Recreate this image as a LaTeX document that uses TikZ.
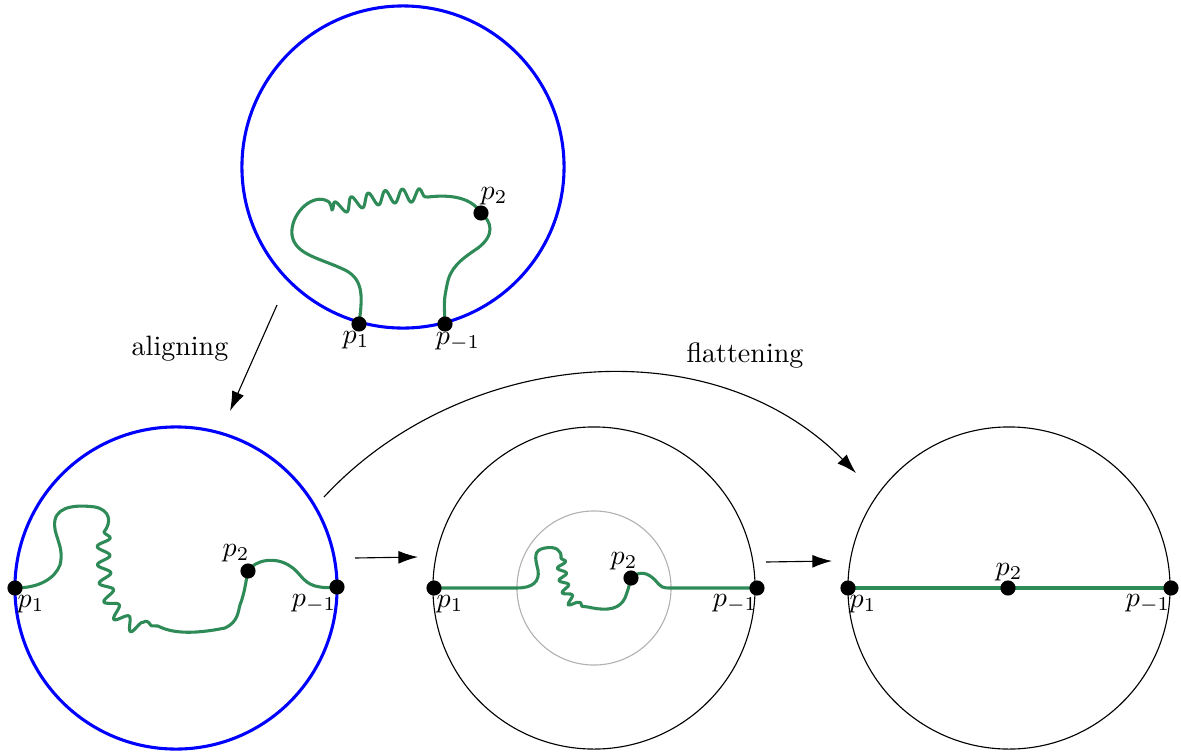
\documentclass[tikz,border=0pt]{standalone}
\usetikzlibrary{arrows.meta,decorations.pathmorphing}
\definecolor{grn}{RGB}{46,139,87}
\definecolor{blu}{RGB}{0,0,255}
\begin{document}
\begin{tikzpicture}[x=0.357pt,y=-0.357pt,
  bluecirc/.style={draw=blu,line width=1.1pt},
  blackcirc/.style={draw=black,line width=0.4pt},
  graycirc/.style={draw=black!30,line width=0.4pt},
  grnpath/.style={draw=grn,line width=1.1pt,line cap=round,line join=round},
  dot/.style={circle,fill=black,inner sep=0pt,minimum size=5.4pt},
  lbl/.style={inner sep=0pt},
  arr/.style={-{Latex[length=7pt,width=4.6pt]},line width=0.4pt},
  wig/.style 2 args={decoration={snake,segment length=#1,amplitude=#2}}
]
\useasboundingbox (0,0) rectangle (1181,754);

% ---------- positions ----------
\coordinate (a1) at (359,324);
\coordinate (am) at (445,324);
\coordinate (a2) at (481,213);
\coordinate (b1) at (15,588);
\coordinate (bm) at (337,587);
\coordinate (b2) at (248,571);
\coordinate (c1) at (434,588);
\coordinate (cm) at (757,588);
\coordinate (c2) at (631,578);
\coordinate (d1) at (848,588);
\coordinate (dm) at (1171,588);
\coordinate (d2) at (1008,588);

% ---------- circles ----------
\node[circle,bluecirc,minimum size=115pt,inner sep=0pt] (C0) at (403,167) {};
\node[circle,bluecirc,minimum size=115pt,inner sep=0pt] (C1) at (176,588) {};
\node[circle,blackcirc,minimum size=115pt,inner sep=0pt] (C2) at (594,588) {};
\node[circle,graycirc,minimum size=55pt,inner sep=0pt] (G2) at (594,588) {};
\node[circle,blackcirc,minimum size=115pt,inner sep=0pt] (C3) at (1009,588) {};

% ---------- top curve ----------
\draw[grnpath] (a1) .. controls (362,300) and (365,280) .. (345,270)
  .. controls (320,258) and (295,255) .. (292,235)
  .. controls (290,215) and (310,195) .. (325,200)
  .. controls (330,202) .. (332,210)
  decorate[wig={6pt}{2.4pt}] { .. controls (365,198) and (400,196) .. (428,197) }
  .. controls (445,195) and (470,195) .. (a2);
\draw[grnpath] (a2) .. controls (492,222) and (495,235) .. (478,248)
  .. controls (460,260) and (450,268) .. (447,285)
  .. controls (444,300) .. (am);

% ---------- bottom-left curve ----------
\draw[grnpath] (b1) .. controls (40,588) and (55,578) .. (60,565)
  .. controls (65,545) and (52,535) .. (55,520)
  .. controls (58,505) and (80,505) .. (95,507)
  .. controls (110,510) and (112,522) .. (104,532)
  decorate[wig={6.4pt}{2.3pt}] { .. controls (102,590) and (110,625) .. (158,626) }
  .. controls (175,635) and (200,633) .. (225,628)
  .. controls (238,622) and (238,612) .. (240,605)
  .. controls (245,592) and (246,580) .. (b2);
\draw[grnpath] (b2) .. controls (255,560) and (275,556) .. (290,566)
  .. controls (300,572) and (302,582) .. (315,586)
  .. controls (325,588) .. (bm);

% ---------- middle curve ----------
\draw[grnpath] (c1) -- (517,588) .. controls (532,588) and (540,582) .. (538,570)
  .. controls (535,558) and (533,550) .. (545,548)
  .. controls (555,546) and (562,550) .. (561,558)
  decorate[wig={4.3pt}{1.6pt}] { .. controls (563,590) and (570,606) .. (588,607) }
  .. controls (610,612) and (620,608) .. (625,598)
  .. controls (628,590) .. (c2);
\draw[grnpath] (c2) .. controls (640,570) and (648,573) .. (655,580)
  .. controls (662,588) .. (672,588) -- (cm);

% ---------- right line ----------
\draw[grnpath] (d1) -- (d2) -- (dm);

% ---------- dots ----------
\foreach \p in {a1,am,a2,b1,bm,b2,c1,cm,c2,d1,dm,d2}
  \node[dot] (dot\p) at (\p) {};

% ---------- labels ----------
\node[lbl] (la1) at (356,340) {$p_1$};
\node[lbl] (lam) at (458,342) {$p_{-1}$};
\node[lbl] (la2) at (494,196) {$p_2$};
\node[lbl] (lb1) at (31,604) {$p_1$};
\node[lbl] (lbm) at (314,604) {$p_{-1}$};
\node[lbl] (lb2) at (236,553) {$p_2$};
\node[lbl] (lc1) at (450,604) {$p_1$};
\node[lbl] (lcm) at (735,604) {$p_{-1}$};
\node[lbl] (lc2) at (624,561) {$p_2$};
\node[lbl] (ld1) at (863,604) {$p_1$};
\node[lbl] (ldm) at (1148,604) {$p_{-1}$};
\node[lbl] (ld2) at (1009,572) {$p_2$};

% ---------- arrows ----------
\coordinate (s1) at (277,305);
\coordinate (e1) at (230,411);
\draw[arr] (s1) -- (e1);
\coordinate (s2) at (355,558);
\coordinate (e2) at (418,557);
\draw[arr] (s2) -- (e2);
\coordinate (s3) at (766,562);
\coordinate (e3) at (832,561);
\draw[arr] (s3) -- (e3);
\coordinate (s4) at (324,497);
\coordinate (e4) at (856,473);
\draw[arr] (s4) .. controls (460,350) and (710,325) .. (e4);

\node (tal) at (180,349) {aligning};
\node (tfl) at (745,356) {flattening};
\end{tikzpicture}
\end{document}
